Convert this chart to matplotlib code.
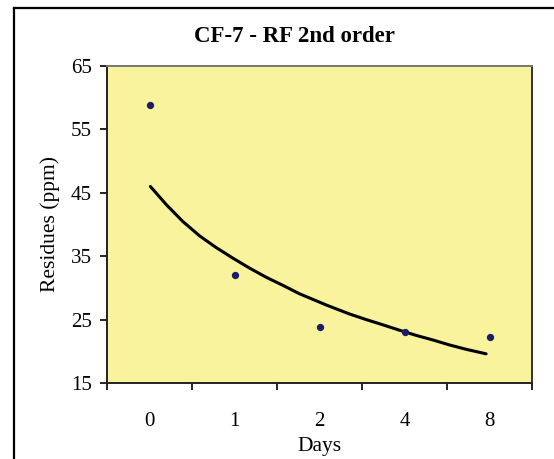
import matplotlib
matplotlib.use('Agg')
import matplotlib.pyplot as plt
from matplotlib.lines import Line2D

## data
days = ['0', '1', '2', '4', '8']
residues = [58.9, 32.1, 23.8, 23.1, 22.2]

# trendline (x in category positions, 1 = day 0)
fit_x = [1.01, 1.20, 1.39, 1.59, 1.78, 1.98, 2.18, 2.37, 2.57, 2.76, 3.08,
         3.35, 3.55, 3.74, 3.97, 4.14, 4.33, 4.53, 4.73, 4.96]
fit_y = [46.0, 43.1, 40.5, 38.2, 36.4, 34.7, 33.1, 31.7, 30.4, 29.1, 27.3,
         25.9, 25.0, 24.2, 23.2, 22.5, 21.8, 21.0, 20.3, 19.6]

yticks = [15, 25, 35, 45, 55, 65]

plt.rcParams['font.family'] = ['Liberation Serif', 'DejaVu Serif']

W, H = 554, 459
fig = plt.figure(figsize=(W / 100, H / 100), dpi=100)
fig.patch.set_facecolor('white')

# outer chart frame (cropped on right and bottom)
fig.add_artist(Line2D([14 / W, 14 / W], [0, 1 - 8 / H], color='black', lw=1.6,
                      transform=fig.transFigure))
fig.add_artist(Line2D([14 / W, 1], [1 - 8 / H, 1 - 8 / H], color='black', lw=1.6,
                      transform=fig.transFigure))

left, right, top, bottom = 107, 532, 66, 383
ax = fig.add_axes([left / W, 1 - bottom / H, (right - left) / W, (bottom - top) / H])
ax.set_facecolor('#f8f39c')

pos = list(range(1, len(days) + 1))
ax.plot(fit_x, fit_y, color='black', lw=2.2, solid_capstyle='round',
        solid_joinstyle='round')
ax.scatter(pos, residues, s=18, color='#1c1c6a', zorder=3)

ax.set_xlim(0.5, len(days) + 0.5)
ax.set_ylim(15, 65)
ax.set_yticks(yticks)
ax.set_xticks(pos)
ax.set_xticklabels(days)
ax.set_xticks([p + 0.5 for p in range(len(days) + 1)], minor=True)

for s in ax.spines.values():
    s.set_color('#222222')
    s.set_linewidth(1.4)
ax.spines['top'].set_color('#777777')
ax.spines['right'].set_color('#333333')

ax.tick_params(axis='y', direction='out', length=5, width=1.2, pad=6, labelsize=15)
ax.tick_params(axis='x', which='major', length=0, pad=21, labelsize=15)
ax.tick_params(axis='x', which='minor', direction='out', length=5, width=1.2)

ax.set_xlabel('Days', fontsize=15.5, labelpad=4)
ax.set_ylabel('Residues (ppm)', fontsize=15.5, labelpad=8)

fig.text(294 / W, 1 - 36 / H, 'CF-7 - RF 2nd order', ha='center', va='center',
         fontsize=16.5, fontweight='bold')

fig.savefig('out.png', dpi=100)
